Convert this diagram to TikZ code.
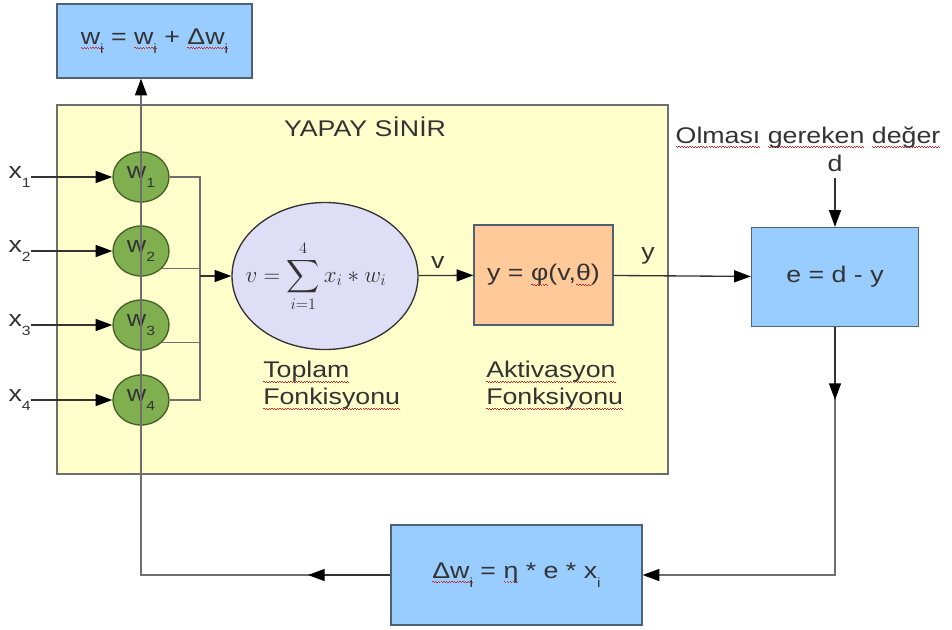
\documentclass[tikz,border=0pt]{standalone}
\usepackage{fontspec}
\setmainfont{Liberation Sans}[FakeStretch=1.18]
\usepackage{amsmath}
\usepackage{tikz}
\usetikzlibrary{arrows.meta, positioning, shapes.geometric}
\definecolor{ysaBlue}{HTML}{99CCFF}
\definecolor{ysaYellow}{HTML}{FFFFCC}
\definecolor{ysaGreen}{HTML}{7FAF4F}
\definecolor{ysaOrange}{HTML}{FFC999}
\definecolor{ysaLilac}{HTML}{DEDEF7}
\definecolor{ysaEdge}{HTML}{4F6275}
\definecolor{ysaText}{HTML}{333333}
\definecolor{ysaLine}{HTML}{6E6E6E}
\definecolor{ysaRed}{HTML}{D02828}

% lowered index, red wavy underline
\newcommand\idx[1]{\raisebox{-7pt}{\fontsize{10}{10}\selectfont #1}}
\newcommand\wavepiece{\hbox{\textcolor{ysaRed}{\rule[0pt]{1pt}{0.6pt}\rule[-0.8pt]{1pt}{0.6pt}}}}
\newsavebox\spellbox
\newcommand\spell[1]{\sbox\spellbox{#1}%
  \rlap{\raisebox{-3pt}{\hbox to \wd\spellbox{\xleaders\wavepiece\hfil}}}\usebox\spellbox}

\begin{document}
\begin{tikzpicture}[
  x=0.75pt, y=-0.75pt,
  font=\fontsize{17}{20}\selectfont, text=ysaText,
  box/.style={
    rectangle, draw=ysaEdge, fill=#1, line width=1pt, inner sep=0pt,
  },
  weight/.style={
    ellipse, draw=ysaGreen!55!black, fill=ysaGreen, line width=1pt,
    minimum width=42pt, minimum height=37.5pt, inner sep=0pt,
  },
  arrow/.style={-{Triangle[length=12.5pt, width=9pt, color=black]}, line width=1pt, draw=ysaText},
  wire/.style={line width=1pt, draw=ysaLine},
  caption/.style={align=left, inner sep=0pt, anchor=north west},
]
\fill[white] (0,0) rectangle (952,629);
\useasboundingbox (0,0) rectangle (952,629);

% Neuron body
\node[box=ysaYellow, draw=ysaLine, minimum width=458.25pt, minimum height=276.75pt] (neuron) at (362.5,289.5) {};
\node[inner sep=0pt] (title) at (365,127) {YAPAY SİNİR};

% Update rule on top
\node[box=ysaBlue, minimum width=146.25pt, minimum height=55.5pt] (update) at (154.5,41)
  {\spell{w\idx{i}} = \spell{w\idx{i}} + \spell{Δw\idx{i}}};

% Inputs and weights
\foreach \i/\y in {1/177, 2/251, 3/325, 4/400} {
  \node[weight] (w\i) at (141,\y) {w\idx{\i}};
  \node[inner sep=0pt, anchor=east] (x\i) at (31,\y) {x\idx{\i}};
  \draw[arrow] (x\i) -- (w\i);
}

% Summation
\node[ellipse, draw=ysaText, fill=ysaLilac, line width=1pt, minimum width=139.5pt,
  minimum height=110.25pt, inner sep=0pt] (sum) at (325,276) {};
\node[inner sep=0pt, font=\fontsize{17.5}{20}\selectfont] (sumtext) at (316,276)
  {$\displaystyle v=\sum_{i=1}^{4} x_i * w_i$};
\coordinate (bus) at (200,276);
\draw[wire] (w1.east) -| (bus |- w4.east) -- (w4.east);
\draw[wire] (w2.-40) -- (w2.-40 -| bus);
\draw[wire] (w3.-40) -- (w3.-40 -| bus);
\draw[arrow] (bus) -- (sum);

% Activation
\node[box=ysaOrange, minimum width=104.25pt, minimum height=75pt] (act) at (543.5,275)
  {y = \spell{φ}(v,\spell{θ})};
\draw[arrow] (sum) -- node[above=5pt, inner sep=0pt, pos=0.35] (vlab) {v} (act);

\node[caption] (sumcap) at (263,361) {\spell{Toplam}\\\spell{Fonkisyonu}};
\node[caption] (actcap) at (486,361) {\spell{Aktivasyon}\\\spell{Fonksiyonu}};

% Error
\node[box=ysaBlue, minimum width=125.25pt, minimum height=74.25pt] (err) at (835,277) {e = d - y};
\draw[arrow] (act) -- node[above=8pt, inner sep=0pt, pos=0.25] (ylab) {y} (err);
\node[inner sep=0pt, above=41pt of err] (d) {d};
\node[inner sep=0pt, anchor=base] (goal) at (808,143) {\spell{Olması} \spell{gereken} \spell{değer}};
\draw[arrow, shorten <=4.5pt] (d) -- (err);

% Weight change
\node[box=ysaBlue, minimum width=188.25pt, minimum height=75pt] (delta) at (516.5,575)
  {\spell{Δw\idx{i}} = \spell{η} * e * x\idx{i}};

% Feedback loop
\coordinate (downtip) at (835,400);
\coordinate (backtip) at (308,575);
\draw[arrow, draw=ysaLine] (err.south) |- (delta.east);
\draw[arrow] (err.south) -- (downtip);
\draw[arrow, draw=ysaLine] (delta.west) -| (w1.center |- update.south);
\draw[arrow] (delta.west) -- (backtip);

\end{tikzpicture}
\end{document}
